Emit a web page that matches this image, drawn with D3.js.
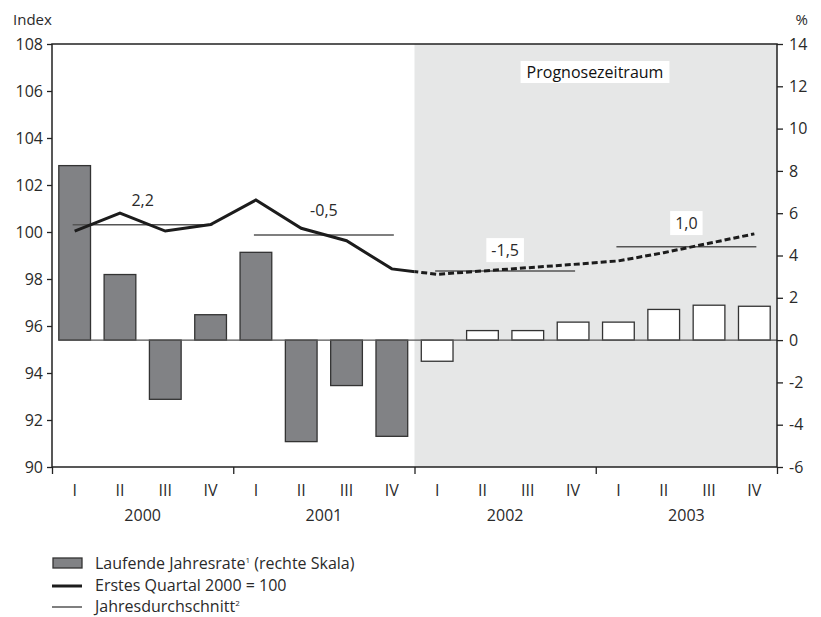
<!DOCTYPE html>
<html lang="de">
<head>
    <meta charset="UTF-8">
    <title>Index und laufende Jahresrate</title>
    <script src="https://cdn.jsdelivr.net/npm/d3@7/dist/d3.min.js"></script>
    <style type="text/css">
        body { margin: 0; background: #fff; }
        svg { font-family: "Open Sans", Lato, sans-serif; font-weight: 400; }
        .tick text { font-size: 16px; fill: #2a2a2a; font-family: "Open Sans", Lato, sans-serif; }
        .tick line { stroke: #222; stroke-width: 1.3; }
        .domain { display: none; }
    </style>
</head>
<body>
<div id="vis"></div>
<script type="text/javascript">

    // data
    let years = ["2000", "2001", "2002", "2003"];
    let quarterNames = ["I", "II", "III", "IV"];
    // laufende Jahresrate, % (right scale)
    let rate = [8.25, 3.1, -2.8, 1.2, 4.15, -4.8, -2.15, -4.55, -1.0, 0.45, 0.45, 0.85, 0.85, 1.45, 1.65, 1.6];
    // Erstes Quartal 2000 = 100 (left scale)
    let indexLevel = [100.04, 100.8, 100.04, 100.32, 101.36, 100.16, 99.63, 98.43, 98.2, 98.34, 98.48, 98.62, 98.77, 99.12, 99.52, 99.92];
    // Jahresdurchschnitt (left scale) and its label
    let yearAvg = [100.31, 99.87, 98.34, 99.37];
    let yearAvgLabel = ["2,2", "-0,5", "-1,5", "1,0"];
    let forecastFrom = 8; // first forecast quarter (2002 I)
    let leftTicks = [90, 92, 94, 96, 98, 100, 102, 104, 106, 108];
    let rightTicks = [-6, -4, -2, 0, 2, 4, 6, 8, 10, 12, 14];

    let W = 821, H = 617;
    let L = 52, R = 777, T = 44, B = 467;
    let textColor = "#2a2a2a";

    let svg = d3.select("#vis").append("svg")
        .attr("width", W)
        .attr("height", H);

    let xBand = d3.scaleBand()
        .domain(d3.range(rate.length))
        .range([L, R])
        .paddingInner(0.3)
        .paddingOuter(0.15);
    let xEdge = d3.scaleLinear().domain([0, rate.length]).range([L, R]);
    let cx = function (i) { return xBand(i) + xBand.bandwidth() / 2; };

    let yLeft = d3.scaleLinear().domain([90, 108]).range([B, T]);
    let yRight = d3.scaleLinear().domain([-6, 14]).range([B, T]);

    // forecast shading
    svg.append("rect")
        .attr("x", xEdge(forecastFrom))
        .attr("y", T)
        .attr("width", R - xEdge(forecastFrom))
        .attr("height", B - T)
        .attr("fill", "#e6e7e7");

    // bars
    svg.append("g").selectAll("rect")
        .data(rate)
        .enter().append("rect")
        .attr("x", function (d, i) { return xBand(i); })
        .attr("y", function (d) { return yRight(Math.max(d, 0)); })
        .attr("width", xBand.bandwidth())
        .attr("height", function (d) { return Math.abs(yRight(d) - yRight(0)); })
        .attr("fill", function (d, i) { return i < forecastFrom ? "#818285" : "#ffffff"; })
        .attr("stroke", "#333")
        .attr("stroke-width", 1.3);

    // zero line of the right scale
    svg.append("line")
        .attr("x1", xBand(0)).attr("x2", R)
        .attr("y1", yRight(0)).attr("y2", yRight(0))
        .attr("stroke", "#555")
        .attr("stroke-width", 1.3);

    // yearly averages
    svg.append("g").selectAll("line")
        .data(yearAvg)
        .enter().append("line")
        .attr("x1", function (d, i) { return cx(i * 4) - 2; })
        .attr("x2", function (d, i) { return cx(i * 4 + 3) + 2; })
        .attr("y1", function (d) { return yLeft(d); })
        .attr("y2", function (d) { return yLeft(d); })
        .attr("stroke", "#555")
        .attr("stroke-width", 1.5);

    // index line: solid before forecast, dashed in forecast
    let defs = svg.append("defs");
    defs.append("clipPath").attr("id", "clipPast").append("rect")
        .attr("x", L).attr("y", 0).attr("width", xEdge(forecastFrom) - L).attr("height", H);
    defs.append("clipPath").attr("id", "clipFuture").append("rect")
        .attr("x", xEdge(forecastFrom)).attr("y", 0).attr("width", R - xEdge(forecastFrom)).attr("height", H);

    let line = d3.line()
        .x(function (d, i) { return cx(i); })
        .y(function (d) { return yLeft(d); });

    svg.append("path")
        .datum(indexLevel)
        .attr("d", line)
        .attr("fill", "none")
        .attr("stroke", "#1c1c1c")
        .attr("stroke-width", 3)
        .attr("clip-path", "url(#clipPast)");
    svg.append("path")
        .datum(indexLevel)
        .attr("d", line)
        .attr("fill", "none")
        .attr("stroke", "#1c1c1c")
        .attr("stroke-width", 3)
        .attr("stroke-dasharray", "6,3")
        .attr("clip-path", "url(#clipFuture)");

    // average labels
    let labelY = [101.36, 100.94, 99.23, 100.38];
    yearAvgLabel.forEach(function (t, i) {
        let x = (cx(i * 4 + 1) + cx(i * 4 + 2)) / 2;
        let y = yLeft(labelY[i]);
        let txt = svg.append("text")
            .attr("x", x).attr("y", y)
            .attr("text-anchor", "middle")
            .attr("dominant-baseline", "central")
            .attr("font-size", 16)
            .attr("fill", textColor)
            .text(t);
        if (i >= forecastFrom / 4) {
            let bb = txt.node().getBBox();
            svg.insert("rect", function () { return txt.node(); })
                .attr("x", bb.x - 5).attr("y", bb.y - 1)
                .attr("width", bb.width + 10).attr("height", bb.height + 2)
                .attr("fill", "#fff");
        }
    });

    // forecast box
    let fcText = svg.append("text")
        .attr("x", 595).attr("y", 72)
        .attr("text-anchor", "middle")
        .attr("dominant-baseline", "central")
        .attr("font-size", 16)
        .attr("fill", "#111")
        .text("Prognosezeitraum");
    let fb = fcText.node().getBBox();
    svg.insert("rect", function () { return fcText.node(); })
        .attr("x", fb.x - 6).attr("y", 61)
        .attr("width", fb.width + 12).attr("height", 22)
        .attr("fill", "#fff");

    // frame
    svg.append("path")
        .attr("d", "M" + L + "," + B + "V" + T + "H" + R + "V" + B + "Z")
        .attr("fill", "none")
        .attr("stroke", "#222")
        .attr("stroke-width", 1.5);

    // axes
    svg.append("g")
        .attr("transform", "translate(" + L + ",0)")
        .call(d3.axisLeft(yLeft).tickValues(leftTicks).tickSize(5).tickPadding(4).tickFormat(function (d) { return String(d); }));
    svg.append("g")
        .attr("transform", "translate(" + R + ",0)")
        .call(d3.axisRight(yRight).tickValues(rightTicks).tickSize(6).tickPadding(6).tickFormat(function (d) { return String(d); }));
    svg.append("g")
        .attr("transform", "translate(0," + B + ")")
        .call(d3.axisBottom(xEdge).tickValues([0, 4, 8, 12, 16]).tickSize(7).tickFormat(""));

    // quarter and year labels
    svg.append("g").selectAll("text")
        .data(rate)
        .enter().append("text")
        .attr("x", function (d, i) { return cx(i); })
        .attr("y", 496)
        .attr("text-anchor", "middle")
        .attr("font-size", 16)
        .attr("fill", textColor)
        .text(function (d, i) { return quarterNames[i % 4]; });
    svg.append("g").selectAll("text")
        .data(years)
        .enter().append("text")
        .attr("x", function (d, i) { return (xEdge(i * 4) + xEdge(i * 4 + 4)) / 2; })
        .attr("y", 521)
        .attr("text-anchor", "middle")
        .attr("font-size", 16)
        .attr("fill", textColor)
        .text(function (d) { return d; });

    // axis titles
    svg.append("text").attr("x", 13).attr("y", 25).attr("font-size", 15).attr("fill", textColor).text("Index");
    svg.append("text").attr("x", 808).attr("y", 25).attr("text-anchor", "end").attr("font-size", 15).attr("fill", textColor).text("%");

    // legend
    let lg = svg.append("g").attr("font-size", 16).attr("fill", textColor);
    lg.append("rect").attr("x", 53).attr("y", 558).attr("width", 29).attr("height", 10)
        .attr("fill", "#818285").attr("stroke", "#333").attr("stroke-width", 1.3);
    let t1 = lg.append("text").attr("x", 95).attr("y", 569);
    t1.append("tspan").text("Laufende Jahresrate");
    t1.append("tspan").attr("font-size", 8).attr("dy", -6).text("1");
    t1.append("tspan").attr("dy", 6).text(" (rechte Skala)");
    lg.append("line").attr("x1", 52).attr("x2", 82).attr("y1", 586).attr("y2", 586)
        .attr("stroke", "#1c1c1c").attr("stroke-width", 3);
    lg.append("text").attr("x", 95).attr("y", 591).text("Erstes Quartal 2000 = 100");
    lg.append("line").attr("x1", 52).attr("x2", 82).attr("y1", 607).attr("y2", 607)
        .attr("stroke", "#555").attr("stroke-width", 1.5);
    let t3 = lg.append("text").attr("x", 95).attr("y", 612);
    t3.append("tspan").text("Jahresdurchschnitt");
    t3.append("tspan").attr("font-size", 8).attr("dy", -6).text("2");
</script>
</body>
</html>
